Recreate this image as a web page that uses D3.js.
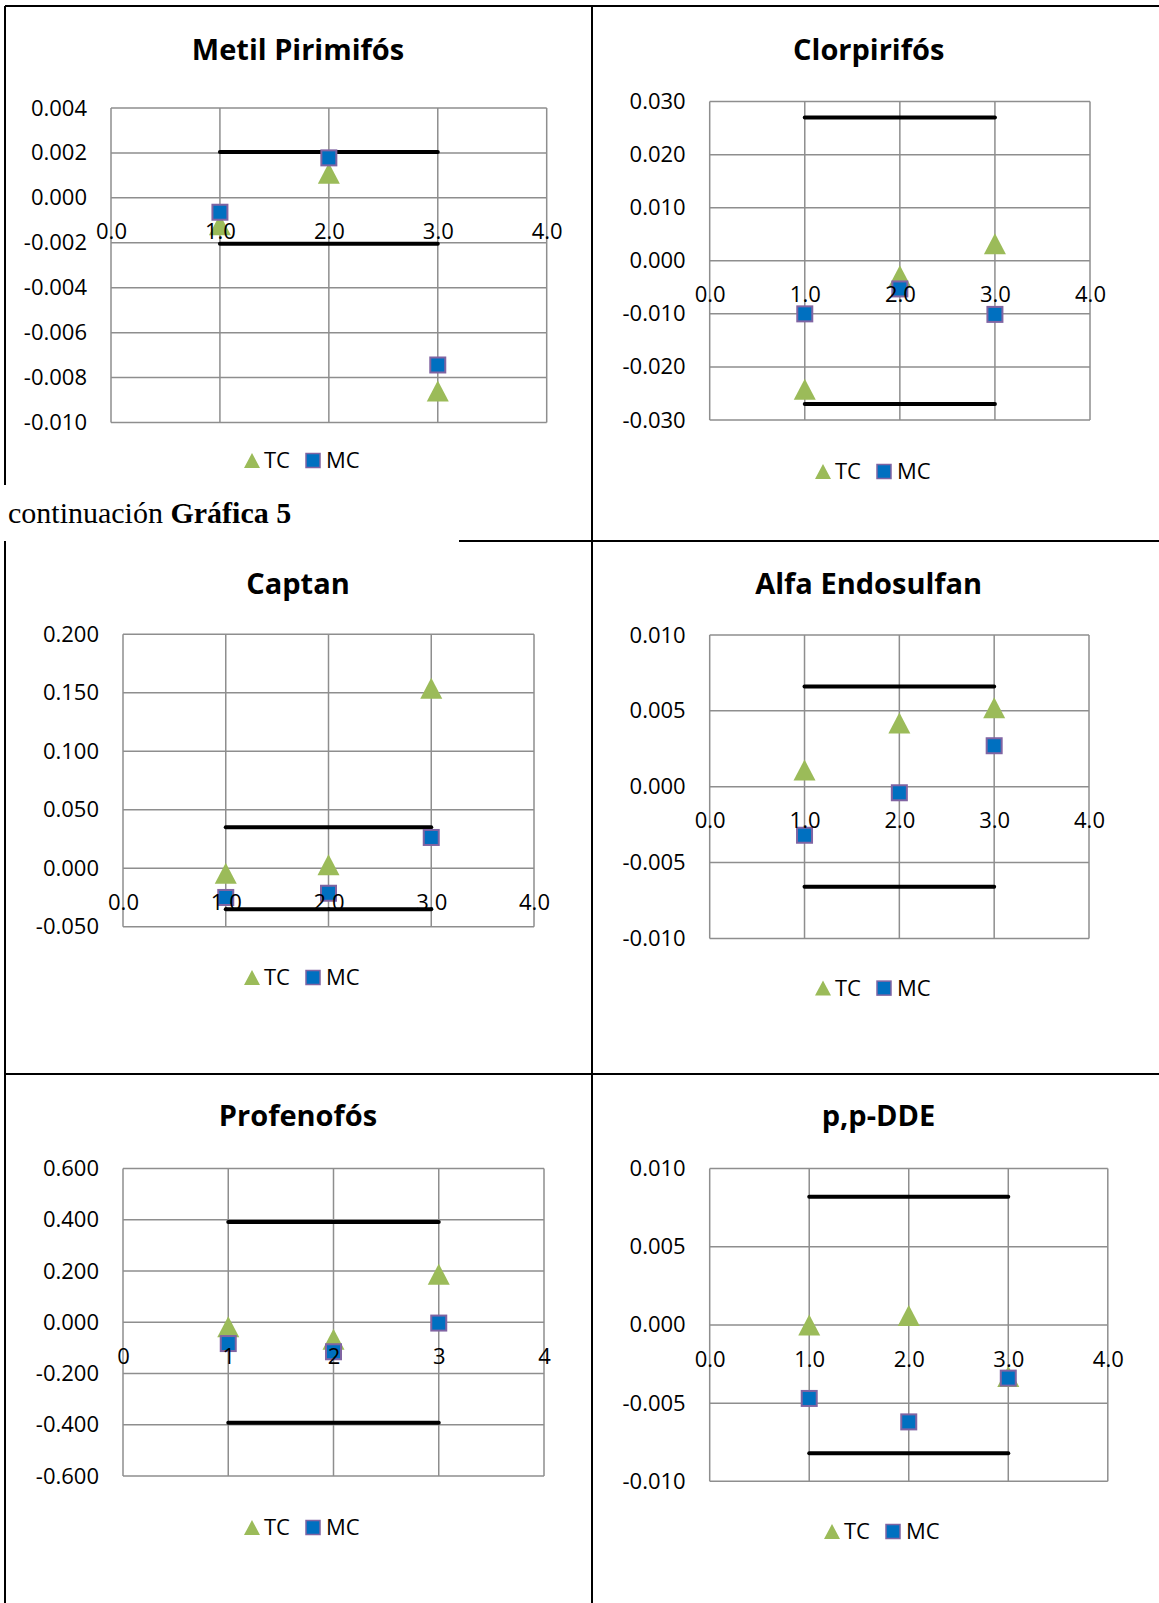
<!DOCTYPE html>
<html>
<head>
<meta charset="utf-8">
<script src="https://cdn.jsdelivr.net/npm/d3@7"></script>
<style>
  body { margin: 0; background: #fff; }
  svg { display: block; }
  .title { font-family: "Open Sans", sans-serif; font-weight: bold; font-size: 29px; }
  .legend text { font-family: "Open Sans", sans-serif; font-size: 22px; }
</style>
</head>
<body>
<script>
var fullWidth = 1159;
var fullHeight = 1603;

// chart titles, in reading order
var titles = ["Metil Pirimifós", "Clorpirifós", "Captan", "Alfa Endosulfan", "Profenofós", "p,p-DDE"];
var seriesNames = ["TC", "MC"];
var xValues = [1, 2, 3];
var xTicks = [0, 1, 2, 3, 4];

// values
var tcMetil = [-0.0012, 0.0011, -0.0086];
var mcMetil = [-0.00064, 0.00178, -0.00744];
var tcClorpirifos = [-0.0242, -0.0028, 0.0032];
var mcClorpirifos = [-0.0100, -0.0053, -0.0101];
var tcCaptan = [-0.0044, 0.0030, 0.1538];
var mcCaptan = [-0.0250, -0.0214, 0.0263];
var tcAlfa = [0.0011, 0.0042, 0.0052];
var mcAlfa = [-0.0032, -0.0004, 0.0027];
var tcProfenofos = [-0.017, -0.066, 0.188];
var mcProfenofos = [-0.083, -0.115, -0.003];
var tcDDE = [0.0000, 0.0006, -0.0033];
var mcDDE = [-0.0047, -0.0062, -0.0034];

// +/- limit drawn from x = 1 to x = 3
var limits = [0.00204, 0.0270, 0.0350, 0.0066, 0.392, 0.0082];

// y axis range and tick step of every chart
var yDomains = [[-0.010, 0.004], [-0.030, 0.030], [-0.050, 0.200], [-0.010, 0.010], [-0.600, 0.600], [-0.010, 0.010]];
var ySteps = [0.002, 0.010, 0.050, 0.005, 0.200, 0.005];
var xDecimals = [1, 1, 1, 1, 0, 1];

var tcValues = [tcMetil, tcClorpirifos, tcCaptan, tcAlfa, tcProfenofos, tcDDE];
var mcValues = [mcMetil, mcClorpirifos, mcCaptan, mcAlfa, mcProfenofos, mcDDE];

// where each chart sits on the page
var boxes = [
    {left: 111, right: 546.7, top: 108, bottom: 422.5, tx: 298, ty: 60, lx: 244, ly: 468},
    {left: 709.7, right: 1090, top: 101.6, bottom: 420, tx: 868.7, ty: 60, lx: 815, ly: 479},
    {left: 123, right: 534, top: 634.3, bottom: 926.7, tx: 298, ty: 593.7, lx: 244, ly: 985},
    {left: 709.7, right: 1089, top: 635, bottom: 938.4, tx: 868.7, ty: 593.7, lx: 815, ly: 995.6},
    {left: 123, right: 544, top: 1168.6, bottom: 1476, tx: 298, ty: 1126, lx: 244, ly: 1535},
    {left: 709.7, right: 1107.8, top: 1168.6, bottom: 1481.3, tx: 878.5, ty: 1126, lx: 824, ly: 1539}
];

var green = "#9bbb59";
var blue = "#0070c0";
var purple = "#8064a2";
var gridColor = "#8e8e8e";

// isosceles triangle centred on its bounding box, like the spreadsheet marker
function triangle(cx, cy, w, h) {
    var p = d3.path();
    p.moveTo(cx, cy - h / 2);
    p.lineTo(cx + w / 2, cy + h / 2);
    p.lineTo(cx - w / 2, cy + h / 2);
    p.closePath();
    return p.toString();
}

window.onload = function() {

    var svg = d3.select("body")
                .append("svg")
                .attr("width", fullWidth)
                .attr("height", fullHeight);

    drawFrame(svg);

    for (let i = 0; i < titles.length; i++) {
        drawChart(svg, i);
    };
};

function drawFrame(svg) {
    var frame = svg.append("g")
                   .attr("stroke", "#000")
                   .attr("stroke-width", 2);

    var lines = [
        [5, 6, fullWidth, 6],
        [5, 6, 5, 485],
        [5, 541, 5, fullHeight],
        [592, 6, 592, fullHeight],
        [459, 541, fullWidth, 541],
        [5, 1074, fullWidth, 1074]
    ];

    frame.selectAll("line")
         .data(lines)
         .enter()
         .append("line")
         .attr("x1", function(d) { return d[0]; })
         .attr("y1", function(d) { return d[1]; })
         .attr("x2", function(d) { return d[2]; })
         .attr("y2", function(d) { return d[3]; });

    var caption = svg.append("text")
                     .attr("x", 8)
                     .attr("y", 523)
                     .style("font-family", "'Liberation Serif', 'Times New Roman', serif")
                     .style("font-size", "30px");
    caption.append("tspan").text("continuación ");
    caption.append("tspan").style("font-weight", "bold").text("Gráfica 5");
}

function drawChart(svg, i) {
    var box = boxes[i];
    var g = svg.append("g");

    var xScale = d3.scaleLinear()
                   .domain([0, 4])
                   .range([box.left, box.right]);

    var yScale = d3.scaleLinear()
                   .domain(yDomains[i])
                   .range([box.bottom, box.top]);

    var step = ySteps[i];
    var n0 = Math.round(yDomains[i][0] / step);
    var n1 = Math.round(yDomains[i][1] / step);
    var yTicks = d3.range(n0, n1 + 1).map(function(k) { return +(k * step).toFixed(6); });

    // grid
    g.append("g")
     .selectAll("line")
     .data(yTicks)
     .enter()
     .append("line")
     .attr("x1", box.left)
     .attr("x2", box.right)
     .attr("y1", function(d) { return yScale(d); })
     .attr("y2", function(d) { return yScale(d); })
     .attr("stroke", gridColor)
     .attr("stroke-width", 1.5);

    g.append("g")
     .selectAll("line")
     .data(xTicks)
     .enter()
     .append("line")
     .attr("x1", function(d) { return xScale(d); })
     .attr("x2", function(d) { return xScale(d); })
     .attr("y1", box.top)
     .attr("y2", box.bottom)
     .attr("stroke", gridColor)
     .attr("stroke-width", 1.5);

    // limit lines
    g.append("g")
     .selectAll("line")
     .data([limits[i], -limits[i]])
     .enter()
     .append("line")
     .attr("x1", xScale(xValues[0]))
     .attr("x2", xScale(xValues[xValues.length - 1]))
     .attr("y1", function(d) { return yScale(d); })
     .attr("y2", function(d) { return yScale(d); })
     .attr("stroke", "#000")
     .attr("stroke-width", 4)
     .attr("stroke-linecap", "round");

    // TC triangles
    g.append("g")
     .selectAll("path")
     .data(tcValues[i])
     .enter()
     .append("path")
     .attr("d", function(d, j) { return triangle(xScale(xValues[j]), yScale(d), 22, 21); })
     .attr("fill", green);

    // MC squares
    g.append("g")
     .selectAll("rect")
     .data(mcValues[i])
     .enter()
     .append("rect")
     .attr("x", function(d, j) { return xScale(xValues[j]) - 7.5; })
     .attr("y", function(d) { return yScale(d) - 7.5; })
     .attr("width", 15)
     .attr("height", 15)
     .attr("fill", blue)
     .attr("stroke", purple)
     .attr("stroke-width", 2);

    // y axis labels
    var yAxis = d3.axisLeft(yScale)
                  .tickValues(yTicks)
                  .tickFormat(function(d) { return d.toFixed(3); })
                  .tickSize(0)
                  .tickPadding(24);

    var ya = g.append("g")
              .attr("transform", "translate(" + box.left + ",0)")
              .call(yAxis);
    ya.select(".domain").remove();
    ya.attr("font-family", "'Open Sans', sans-serif")
      .attr("font-size", 22);
    ya.selectAll("text").attr("fill", "#000");

    // x axis labels, hung from the zero line
    var xAxis = d3.axisBottom(xScale)
                  .tickValues(xTicks)
                  .tickFormat(function(d) { return d.toFixed(xDecimals[i]); })
                  .tickSize(0)
                  .tickPadding(26);

    var xa = g.append("g")
              .attr("transform", "translate(0," + yScale(0) + ")")
              .call(xAxis);
    xa.select(".domain").remove();
    xa.attr("font-family", "'Open Sans', sans-serif")
      .attr("font-size", 22);
    xa.selectAll("text").attr("fill", "#000");

    // title
    g.append("text")
     .attr("class", "title")
     .attr("x", box.tx)
     .attr("y", box.ty)
     .style("text-anchor", "middle")
     .text(titles[i]);

    // legend
    var legend = g.append("g")
                  .attr("class", "legend")
                  .attr("transform", "translate(" + box.lx + "," + box.ly + ")");

    legend.append("path")
          .attr("d", triangle(8, -7.5, 16, 15))
          .attr("fill", green);
    legend.append("text")
          .attr("x", 20)
          .attr("y", 0)
          .text(seriesNames[0]);
    legend.append("rect")
          .attr("x", 62)
          .attr("y", -14.5)
          .attr("width", 14)
          .attr("height", 14)
          .attr("fill", blue)
          .attr("stroke", purple)
          .attr("stroke-width", 1.5);
    legend.append("text")
          .attr("x", 82)
          .attr("y", 0)
          .text(seriesNames[1]);
}
</script>
</body>
</html>
